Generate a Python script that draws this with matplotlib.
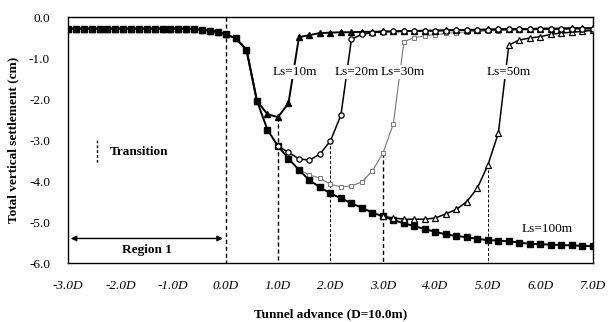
import matplotlib
matplotlib.use("Agg")
import matplotlib.pyplot as plt
import numpy as np

plt.rcParams['font.family'] = ['Liberation Serif', 'DejaVu Serif']

# tunnel advance before the face reaches x = 0 (in D), shared by all runs
pre_x = [-3.0, -2.85, -2.7, -2.55, -2.4, -2.25, -2.1, -1.95, -1.8, -1.65,
         -1.5, -1.35, -1.2, -1.05, -0.9, -0.75, -0.6, -0.45, -0.3, -0.15]
pre_s = [-0.28, -0.28, -0.28, -0.28, -0.28, -0.28, -0.28, -0.28, -0.28, -0.28,
         -0.28, -0.28, -0.28, -0.28, -0.28, -0.29, -0.29, -0.31, -0.33, -0.36]

# Ls = 100 m (no transition inside the plotted range)
ls100_x = [0.0, 0.2, 0.4, 0.6, 0.8, 1.0, 1.2, 1.4, 1.6, 1.8, 2.0, 2.2, 2.4, 2.6,
           2.8, 3.0, 3.2, 3.4, 3.6, 3.8, 4.0, 4.2, 4.4, 4.6, 4.8, 5.0, 5.2, 5.4,
           5.6, 5.8, 6.0, 6.2, 6.4, 6.6, 6.8, 7.0]
ls100_s = [-0.42, -0.52, -0.80, -2.05, -2.75, -3.15, -3.45, -3.73, -3.98, -4.15,
           -4.30, -4.42, -4.54, -4.65, -4.77, -4.86, -4.95, -5.03, -5.10, -5.17,
           -5.24, -5.30, -5.34, -5.37, -5.41, -5.44, -5.45, -5.47, -5.50, -5.53,
           -5.54, -5.55, -5.56, -5.57, -5.58, -5.59]

# Ls = 10 m
ls10_x = [0.0, 0.2, 0.4, 0.6, 0.8, 1.0, 1.2, 1.4, 1.6, 1.8, 2.0, 2.2, 2.4, 2.6,
          2.8, 3.0, 3.2, 3.4, 3.6, 3.8, 4.0, 4.2, 4.4, 4.6, 4.8, 5.0, 5.2, 5.4,
          5.6, 5.8, 6.0, 6.2, 6.4, 6.6, 6.8, 7.0]
ls10_s = [-0.42, -0.52, -0.80, -2.05, -2.37, -2.44, -2.10, -0.49, -0.44, -0.39,
          -0.38, -0.37, -0.37, -0.36, -0.36, -0.35, -0.35, -0.34, -0.34, -0.33,
          -0.33, -0.32, -0.32, -0.31, -0.31, -0.30, -0.30, -0.29, -0.29, -0.29,
          -0.28, -0.28, -0.28, -0.27, -0.27, -0.27]

# Ls = 20 m
ls20_x = [1.0, 1.2, 1.4, 1.6, 1.8, 2.0, 2.2, 2.4, 2.6, 2.8, 3.0, 3.2, 3.4, 3.6,
          3.8, 4.0, 4.2, 4.4, 4.6, 4.8, 5.0, 5.2, 5.4, 5.6, 5.8, 6.0, 6.2, 6.4,
          6.6, 6.8, 7.0]
ls20_s = [-3.15, -3.30, -3.46, -3.49, -3.34, -3.02, -2.39, -0.54, -0.42, -0.38,
          -0.36, -0.35, -0.35, -0.34, -0.34, -0.33, -0.33, -0.32, -0.32, -0.31,
          -0.31, -0.30, -0.30, -0.30, -0.29, -0.29, -0.29, -0.28, -0.28, -0.28,
          -0.28]

# Ls = 30 m
ls30_x = [1.4, 1.6, 1.8, 2.0, 2.2, 2.4, 2.6, 2.8, 3.0, 3.2, 3.4, 3.6, 3.8, 4.0,
          4.2, 4.4, 4.6, 4.8, 5.0, 5.2, 5.4, 5.6, 5.8, 6.0, 6.2, 6.4, 6.6, 6.8, 7.0]
ls30_s = [-3.73, -3.85, -3.93, -4.08, -4.14, -4.12, -4.02, -3.75, -3.32, -2.60,
          -0.60, -0.50, -0.46, -0.43, -0.40, -0.38, -0.36, -0.35, -0.34, -0.33,
          -0.32, -0.32, -0.31, -0.31, -0.30, -0.30, -0.29, -0.29, -0.29]

# Ls = 50 m
ls50_x = [3.0, 3.2, 3.4, 3.6, 3.8, 4.0, 4.2, 4.4, 4.6, 4.8, 5.0, 5.2, 5.4, 5.6,
          5.8, 6.0, 6.2, 6.4, 6.6, 6.8, 7.0]
ls50_s = [-4.86, -4.90, -4.93, -4.93, -4.93, -4.90, -4.80, -4.69, -4.50, -4.17,
          -3.61, -2.83, -0.68, -0.56, -0.51, -0.48, -0.42, -0.39, -0.37, -0.35,
          -0.32]

x_ticks = [-3, -2, -1, 0, 1, 2, 3, 4, 5, 6, 7]
x_labels = ['-3.0D', '-2.0D', '-1.0D', '0.0D', '1.0D', '2.0D', '3.0D',
            '4.0D', '5.0D', '6.0D', '7.0D']
y_ticks = [0, -1, -2, -3, -4, -5, -6]
y_labels = ['0.0', '-1.0', '-2.0', '-3.0', '-4.0', '-5.0', '-6.0']

fig = plt.figure(figsize=(6.08, 3.22), dpi=100)
ax = fig.add_axes([0.112, 0.183, 0.863, 0.764])

# transition lines, dropping from the curve that ends its support there
ax.plot([0, 0], [0, -6], color='black', ls=(0, (3, 2)), lw=1.0, zorder=1)
trans = [(1.0, ls10_x, ls10_s, 1.0), (2.0, ls20_x, ls20_s, 0.7),
         (3.0, ls30_x, ls30_s, 1.0), (5.0, ls50_x, ls50_s, 0.7)]
for xt, xs, ss, lw in trans:
    top = np.interp(xt, xs, ss)
    ax.plot([xt, xt], [top, -6], color='black', ls=(0, (3, 2)), lw=lw, zorder=1)

x100 = pre_x + ls100_x
s100 = pre_s + ls100_s
ax.plot(x100, s100, color='black', lw=1.4, marker='s', ms=4.5, zorder=3)
ax.plot(pre_x + ls10_x, pre_s + ls10_s, color='black', lw=1.4, marker='^',
        ms=4.5, zorder=4)
ax.plot(ls20_x, ls20_s, color='black', lw=1.1, marker='o', ms=3.8,
        mfc='white', mew=0.9, zorder=4)
ax.plot(ls30_x, ls30_s, color='#777777', lw=0.8, marker='s', ms=3.2,
        mfc='white', mew=0.7, zorder=2)
ax.plot(ls50_x, ls50_s, color='black', lw=1.1, marker='^', ms=4.5,
        mfc='white', mew=0.9, zorder=3)

box = dict(facecolor='white', edgecolor='none', pad=1)
for txt, xt, yt in [('Ls=10m', 1.32, -1.34), ('Ls=20m', 2.51, -1.34),
                    ('Ls=30m', 3.37, -1.34), ('Ls=50m', 5.40, -1.34),
                    ('Ls=100m', 6.13, -5.17)]:
    ax.text(xt, yt, txt, ha='center', va='center', fontsize=9.5, bbox=box,
            zorder=5)

# legend entry for the transition lines
ax.plot([-2.44, -2.44], [-3.0, -3.55], color='black', ls=(0, (2, 1.5)), lw=1.0)
ax.text(-2.2, -3.3, 'Transition', fontsize=9.5, fontweight='bold',
        va='center', ha='left')

ax.annotate('', xy=(-2.95, -5.4), xytext=(-0.05, -5.4),
            arrowprops=dict(arrowstyle='<|-|>', color='black', lw=1.0,
                            mutation_scale=8, shrinkA=0, shrinkB=0))
ax.text(-1.5, -5.67, 'Region 1', fontsize=9.5, fontweight='bold',
        ha='center', va='center')

ax.set_xlim(-3, 7)
ax.set_ylim(-6, 0)
ax.set_xticks(x_ticks)
ax.set_xticklabels(x_labels, fontstyle='italic', fontsize=9.5)
ax.set_yticks(y_ticks)
ax.set_yticklabels(y_labels, fontsize=9.5)
ax.tick_params(axis='x', length=0, pad=12)
ax.tick_params(axis='y', length=0, pad=13)
for sp in ax.spines.values():
    sp.set_linewidth(1.0)

ax.set_xlabel('Tunnel advance (D=10.0m)', fontweight='bold', fontsize=9.5,
              labelpad=12)
ax.set_ylabel('Total vertical settlement (cm)', fontweight='bold',
              fontsize=9.5, labelpad=7)

fig.savefig('out.png', dpi=100)
